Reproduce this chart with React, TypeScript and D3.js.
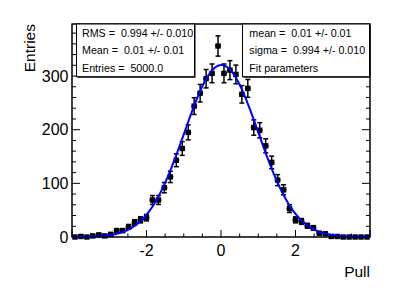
import React, {useEffect, useRef} from "react";
import * as d3 from "d3";

// histogram: 50 bins from -4 to 4
const xMin = -4;
const xMax = 4;
const counts = [
    0, 1, 0, 2, 4, 2, 5, 12, 12, 19,
    27, 32, 36, 69, 69, 92, 112, 143, 165, 195,
    244, 268, 295, 305, 356, 305, 311, 303, 266, 277,
    204, 199, 170, 139, 106, 88, 53, 32, 29, 21,
    17, 7, 6, 1, 1, 0, 0, 0, 0, 0,
];

// gaussian fit parameters
const fitConstant = 320.5;
const fitMean = 0.01;
const fitSigma = 0.994;

const xTickValues = [-2, 0, 2];
const xTickLabels = ["-2", "0", "2"];
const yTickValues = [0, 100, 200, 300];
const yTickLabels = ["0", "100", "200", "300"];

const statLines = ["RMS =  0.994 +/- 0.010", "Mean =  0.01 +/- 0.01", "Entries =  5000.0"];
const fitLines = ["mean =  0.01 +/- 0.01", "sigma =  0.994 +/- 0.010", "Fit parameters"];

const App = () => {
    const ref = useRef<SVGGElement>(null);
    const width = 407;
    const height = 292;
    const left = 72;
    const right = 370;
    const top = 24;
    const bottom = 237;
    const font = "'Liberation Sans', Arial, Helvetica, sans-serif";

    useEffect(() => {
        const g = d3.select(ref.current);
        g.selectAll("*").remove();

        const x = d3.scaleLinear().domain([xMin, xMax]).range([left, right]);
        const y = d3.scaleLinear().domain([0, 397]).range([bottom, top]);
        const binWidth = (xMax - xMin) / counts.length;

        // frame
        g.append("rect")
            .attr("x", left)
            .attr("y", top)
            .attr("width", right - left)
            .attr("height", bottom - top)
            .attr("fill", "white")
            .attr("stroke", "black")
            .attr("stroke-width", 1);

        // ticks
        const ticks = g.append("g").attr("stroke", "black").attr("stroke-width", 1);
        d3.range(xMin, xMax + 0.001, 0.5).forEach(v => {
            const major = Math.abs(v % 2) < 1e-6;
            const len = major ? 7 : 3.5;
            ticks.append("line")
                .attr("x1", x(v)).attr("x2", x(v))
                .attr("y1", bottom).attr("y2", bottom - len);
        });
        d3.range(0, 397, 20).forEach(v => {
            const major = v % 100 === 0;
            const len = major ? 8 : 4;
            ticks.append("line")
                .attr("x1", left).attr("x2", left + len)
                .attr("y1", y(v)).attr("y2", y(v));
            ticks.append("line")
                .attr("x1", right).attr("x2", right - len)
                .attr("y1", y(v)).attr("y2", y(v));
        });

        // tick labels
        g.selectAll("text.xlab")
            .data(xTickValues)
            .enter()
            .append("text")
            .attr("class", "xlab")
            .attr("x", d => x(d))
            .attr("y", 255.5)
            .attr("text-anchor", "middle")
            .style("font-family", font)
            .style("font-size", "16px")
            .text((d, i) => xTickLabels[i]);

        g.selectAll("text.ylab")
            .data(yTickValues)
            .enter()
            .append("text")
            .attr("class", "ylab")
            .attr("x", 68.5)
            .attr("y", d => y(d))
            .attr("dy", "0.36em")
            .attr("text-anchor", "end")
            .style("font-family", font)
            .style("font-size", "16px")
            .text((d, i) => yTickLabels[i]);

        // axis titles
        g.append("text")
            .attr("transform", `translate(35, ${top}) rotate(-90)`)
            .attr("text-anchor", "end")
            .style("font-family", font)
            .style("font-size", "15.5px")
            .text("Entries");

        g.append("text")
            .attr("x", right)
            .attr("y", 276.5)
            .attr("text-anchor", "end")
            .style("font-family", font)
            .style("font-size", "15.5px")
            .text("Pull");

        // fit curve
        const curveX = d3.range(xMin, xMax + 0.001, 0.02);
        const line = d3.line<number>()
            .x(d => x(d))
            .y(d => y(fitConstant * Math.exp(-0.5 * ((d - fitMean) / fitSigma) ** 2)))
            .curve(d3.curveLinear);

        // data points
        const pts = g.append("g");
        counts.forEach((c, i) => {
            const cx = x(xMin + (i + 0.5) * binWidth);
            const x0 = x(xMin + i * binWidth);
            const x1 = x(xMin + (i + 1) * binWidth);
            const cy = y(c);
            const err = Math.sqrt(c);
            if (c > 0) {
                pts.append("line")
                    .attr("x1", cx).attr("x2", cx)
                    .attr("y1", y(c + err)).attr("y2", y(c - err))
                    .attr("stroke", "black").attr("stroke-width", 1.5);
                [c + err, c - err].forEach(v => {
                    pts.append("line")
                        .attr("x1", cx - 2.5).attr("x2", cx + 2.5)
                        .attr("y1", y(v)).attr("y2", y(v))
                        .attr("stroke", "black").attr("stroke-width", 1.5);
                });
            }
            pts.append("line")
                .attr("x1", x0).attr("x2", x1)
                .attr("y1", cy).attr("y2", cy)
                .attr("stroke", "black").attr("stroke-width", 1.5);
            pts.append("rect")
                .attr("x", cx - 2.7).attr("y", cy - 2.7)
                .attr("width", 5.4).attr("height", 5.4)
                .attr("fill", "black");
        });

        g.append("path")
            .datum(curveX)
            .attr("d", line)
            .attr("fill", "none")
            .attr("stroke", "#0000ff")
            .attr("stroke-width", 2);

        // frame border on top again
        g.append("rect")
            .attr("x", left)
            .attr("y", top)
            .attr("width", right - left)
            .attr("height", bottom - top)
            .attr("fill", "none")
            .attr("stroke", "black")
            .attr("stroke-width", 1);

        // stat boxes
        const drawBox = (bx0: number, bx1: number, lines: string[], tx: number) => {
            const by0 = top;
            const by1 = 76.7;
            g.append("rect")
                .attr("x", bx0 + 1).attr("y", by0 + 1)
                .attr("width", bx1 - bx0).attr("height", by1 - by0)
                .attr("fill", "black");
            g.append("rect")
                .attr("x", bx0).attr("y", by0)
                .attr("width", bx1 - bx0).attr("height", by1 - by0)
                .attr("fill", "white")
                .attr("stroke", "black")
                .attr("stroke-width", 1);
            lines.forEach((t, i) => {
                g.append("text")
                    .attr("x", tx)
                    .attr("y", by0 + (i + 0.5) * (by1 - by0) / 3)
                    .attr("dy", "0.36em")
                    .style("font-family", font)
                    .style("font-size", "10.7px")
                    .style("white-space", "pre")
                    .text(t);
            });
        };
        drawBox(76.5, 194.5, statLines, 82);
        drawBox(242.5, 369.5, fitLines, 249.3);
    }, []);

    return (
        <svg width={width} height={height} style={{position: "absolute", left: 0, top: 0, background: "white"}}>
            <g ref={ref}/>
        </svg>
    );
};

export default App;
